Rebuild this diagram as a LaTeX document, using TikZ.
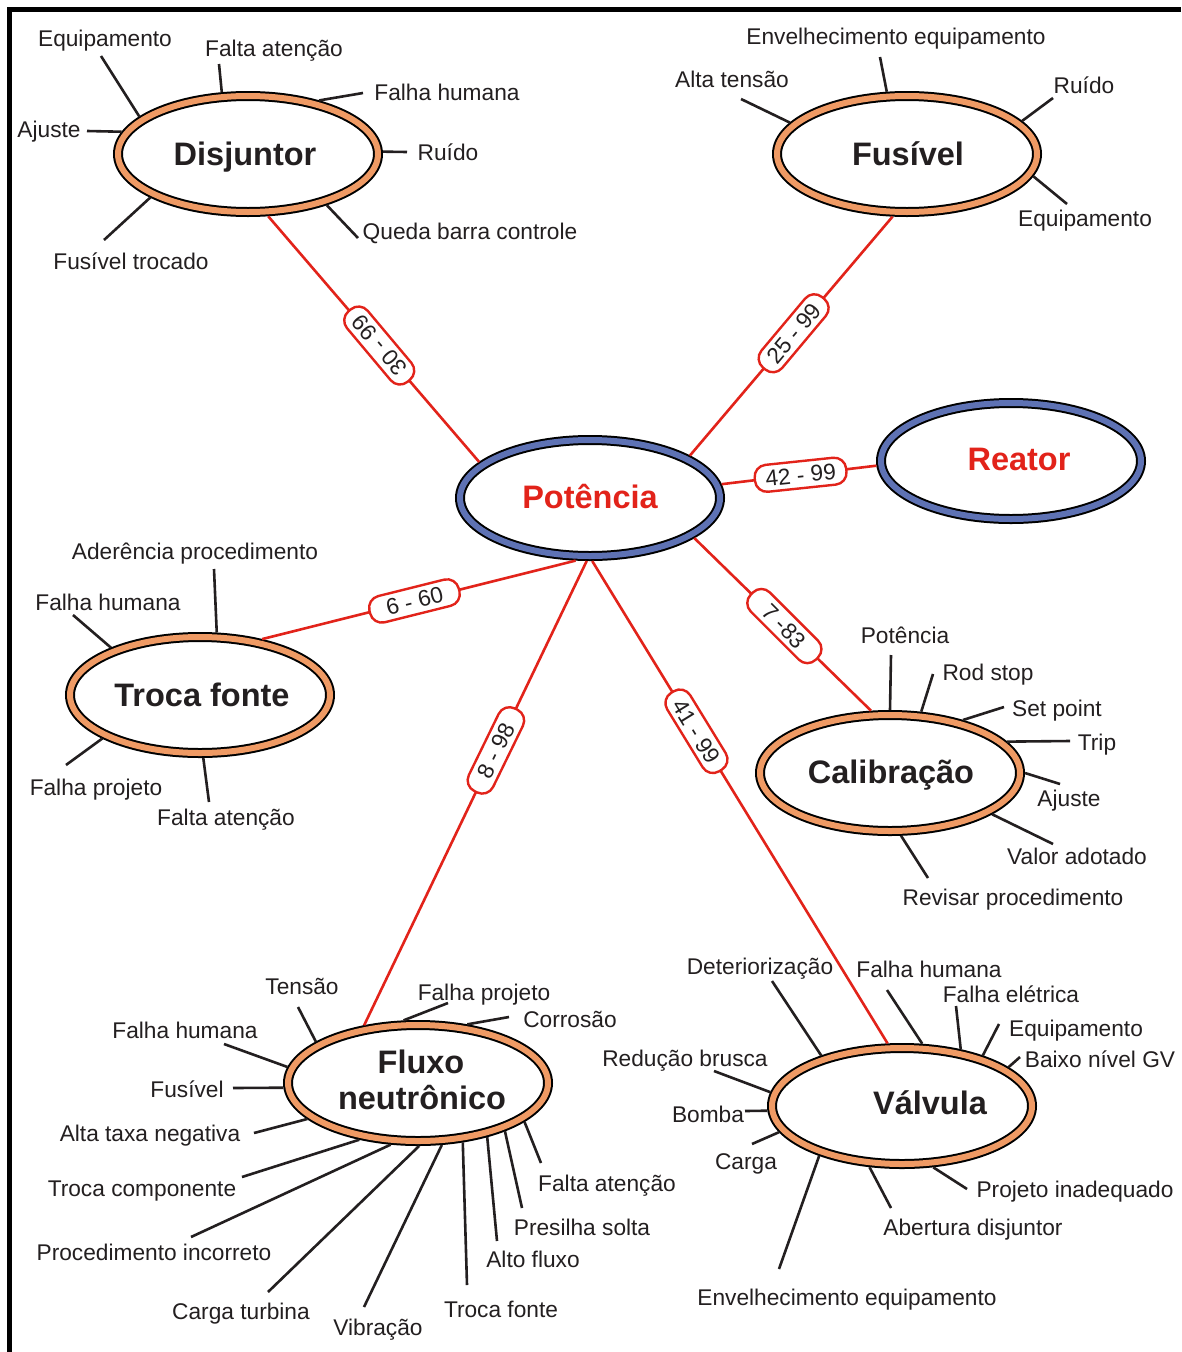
\documentclass[tikz,border=0pt]{standalone}
\usepackage{fontspec}
\setmainfont{Liberation Sans}
\usetikzlibrary{shapes.geometric}
\definecolor{band}{HTML}{EF9A64}
\definecolor{bandblue}{HTML}{5E72B4}
\definecolor{linkred}{HTML}{E2231A}
\definecolor{ink}{HTML}{231F20}
\begin{document}
\begin{tikzpicture}[x=1pt,y=-1pt,
  topic/.style={ellipse, draw=black, line width=2pt, double=band, double distance=6pt,
    fill=white, minimum width=260pt, minimum height=116pt, inner sep=0pt, outer sep=5pt},
  core/.style={topic, double=bandblue},
  title/.style={font=\fontsize{32.5}{37}\selectfont\bfseries, text=ink, inner sep=0pt,
    text height=23.3pt, text depth=0pt},
  cause/.style={font=\fontsize{22.7}{27}\selectfont, text=ink, inner sep=0pt,
    text height=16.3pt, text depth=0pt},
  spoke/.style={draw=ink, line width=2.6pt},
  link/.style={draw=linkred, line width=2.6pt},
  tag/.style={draw=linkred, line width=2.4pt, fill=white, rounded corners=12pt,
    minimum width=92pt, minimum height=27pt, inner sep=0pt,
    font=\fontsize{22.7}{27}\selectfont, text=ink, text height=16.3pt, text depth=0pt},
]
\useasboundingbox (0,0) rectangle (1181,1352);
\fill[white] (0,0) rectangle (1181,1352);
\draw[black, line width=4.5pt] (9.5,1352) -- (9.5,9.5) -- (1181,9.5);

% ellipses
\node[topic] (disj) at (248,154) {};
\node[topic] (fus) at (907,154) {};
\node[core] (pot) at (590,498) {};
\node[core] (reator) at (1011,461) {};
\node[topic] (troca) at (200,695) {};
\node[topic] (calib) at (890,773) {};
\node[topic] (fluxo) at (418,1083) {};
\node[topic] (valv) at (902,1106) {};

% titles
\node[title] (disjT) at (245,154) {Disjuntor};
\node[title] (fusT) at (908,154) {Fusível};
\node[title, text=linkred] (potT) at (590,497) {Potência};
\node[title, text=linkred] (reatorT) at (1019,459) {Reator};
\node[title] (trocaT) at (202,695) {Troca fonte};
\node[title] (calibT) at (891,772) {Calibração};
\node[title] (fluxoT1) at (421,1062) {Fluxo};
\node[title] (fluxoT2) at (422,1098) {neutrônico};
\node[title] (valvT) at (930,1103) {Válvula};

% red links with tags
\draw[link] (disj.-72.1) -- node[tag, pos=0.526, rotate=130] (t30) {30 - 99} (pot.162.3);
\draw[link] (fus.-103.2) -- node[tag, pos=0.488, rotate=50] (t25) {25 - 99} (pot.23.5);
\draw[link] (pot.6.5) -- node[tag, pos=0.51, rotate=6] (t42) {42 - 99} (reator.182.5);
\draw[link] (pot.-103.2) -- node[tag, pos=0.514, rotate=14] (t6) {6 - 60} (troca.42.1);
\draw[link] (pot.-21.1) -- node[tag, pos=0.51, rotate=-45] (t7) {7 -83} (calib.107.9);
\draw[link] (pot.-93.6) -- node[tag, pos=0.408, rotate=64] (t8) {8 - 98} (fluxo.133);
\draw[link] (pot.-88.2) -- node[tag, pos=0.353, rotate=-58.5] (t41) {41 - 99} (valv.103.4);

% Disjuntor causes
\foreach \a/\ex/\ey/\lx/\ly/\txt [count=\i] in {
  161.4/101/56/105/38/Equipamento,
  113.2/219/64/274/48/Falta atenção,
  37.6/363/93/447/92/Falha humana,
  1/407/152/448/152/Ruído,
  -33.5/358/238/470/231/Queda barra controle,
  -156.5/104/240/131/261/Fusível trocado,
  170.5/87/131/49/129/Ajuste}{
  \coordinate (dj\i) at (\ex,\ey);
  \draw[spoke] (disj.\a) -- (dj\i);
  \node[cause] (djt\i) at (\lx,\ly) {\txt};
}

% Fusivel causes
\foreach \a/\ex/\ey/\lx/\ly/\txt [count=\i] in {
  165.7/741/99/732/79/Alta tensão,
  108.7/880/57/896/36/Envelhecimento equipamento,
  16.5/1053/98/1084/85/Ruído,
  -10.6/1067/204/1085/218/Equipamento}{
  \coordinate (fs\i) at (\ex,\ey);
  \draw[spoke] (fus.\a) -- (fs\i);
  \node[cause] (fst\i) at (\lx,\ly) {\txt};
}

% Troca fonte causes
\foreach \a/\ex/\ey/\lx/\ly/\txt [count=\i] in {
  75.5/214/569/195/551/Aderência procedimento,
  152.4/73/615/108/602/Falha humana,
  -156.9/66/765/96/787/Falha projeto,
  -87.3/209/802/226/817/Falta atenção}{
  \coordinate (tf\i) at (\ex,\ey);
  \draw[spoke] (troca.\a) -- (tf\i);
  \node[cause] (tft\i) at (\lx,\ly) {\txt};
}

% Calibracao causes
\foreach \a/\ex/\ey/\lx/\ly/\txt [count=\i] in {
  90/891/655/905/635/Potência,
  63.8/933/674/988/672/Rod stop,
  36.1/1004/707/1057/708/Set point,
  15.3/1070/741/1097/742/Trip,
  0.4/1060/784/1069/798/Ajuste,
  -22.7/1053/844/1077/856/Valor adotado,
  -80.2/928/878/1013/897/Revisar procedimento}{
  \coordinate (cb\i) at (\ex,\ey);
  \draw[spoke] (calib.\a) -- (cb\i);
  \node[cause] (cbt\i) at (\lx,\ly) {\txt};
}

% Fluxo neutronico causes
\foreach \a/\ex/\ey/\lx/\ly/\txt [count=\i] in {
  158/298/1007/302/986/Tensão,
  103.2/448/1003/484/992/Falha projeto,
  50.2/509/1017/570/1019/Corrosão,
  173.5/224/1044/185/1030/Falha humana,
  182/233/1088/187/1089/Fusível,
  -162.3/254/1133/150/1133/Alta taxa negativa,
  -136.9/242/1177/142/1188/Troca componente,
  -114/191/1237/154/1252/Procedimento incorreto,
  -89/268/1292/241/1311/Carga turbina,
  -69.1/364/1307/378/1327/Vibração,
  -53.7/467/1285/501/1309/Troca fonte,
  -38.6/497/1241/533/1259/Alto fluxo,
  -29.6/522/1208/582/1227/Presilha solta,
  -20.9/541/1163/607/1183/Falta atenção}{
  \coordinate (fx\i) at (\ex,\ey);
  \draw[spoke] (fluxo.\a) -- (fx\i);
  \node[cause] (fxt\i) at (\lx,\ly) {\txt};
}

% Valvula causes
\foreach \a/\ex/\ey/\lx/\ly/\txt [count=\i] in {
  148.1/772/981/760/966/Deteriorização,
  72.4/887/990/929/969/Falha humana,
  44.5/956/1006/1011/994/Falha elétrica,
  32.5/999/1024/1076/1028/Equipamento,
  20.7/1020/1057/1100/1059/Baixo nível GV,
  174.4/714/1071/685/1058/Redução brusca,
  182/745/1111/708/1114/Bomba,
  -168.8/752/1144/746/1161/Carga,
  -149.8/779/1269/847/1297/Envelhecimento equipamento,
  -118.7/891/1208/973/1227/Abertura disjuntor,
  -63.4/967/1189/1075/1189/Projeto inadequado}{
  \coordinate (vl\i) at (\ex,\ey);
  \draw[spoke] (valv.\a) -- (vl\i);
  \node[cause] (vlt\i) at (\lx,\ly) {\txt};
}
\end{tikzpicture}
\end{document}
